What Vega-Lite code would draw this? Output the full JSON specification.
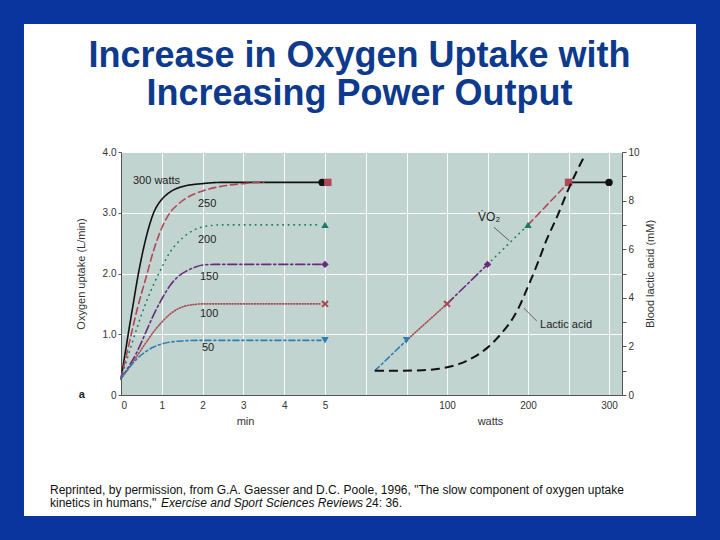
{
"$schema":"https://vega.github.io/schema/vega-lite/v6.json",
"width":501,"height":243,
"autosize":{"type":"none"},
"padding":{"left":121,"top":152,"right":98,"bottom":145},
"background":"#ffffff",
"config":{"view":{"fill":"#c2d4cf","stroke":null},"font":"Liberation Sans"},
"title":{"text":["Increase in Oxygen Uptake with","Increasing Power Output"],"font":"Liberation Sans","fontSize":36,"fontWeight":"bold","color":"#0d3a8c","anchor":"middle","frame":"group","offset":-113,"dx":-12,"lineHeight":38},
"datasets":{
"curves":[
{"w":"300","t":0,"v":0.27},{"w":"300","t":0.1,"v":0.68},{"w":"300","t":0.2,"v":1.1},{"w":"300","t":0.3,"v":1.5},{"w":"300","t":0.4,"v":1.9},{"w":"300","t":0.5,"v":2.25},{"w":"300","t":0.6,"v":2.55},{"w":"300","t":0.7,"v":2.8},{"w":"300","t":0.8,"v":3.0},{"w":"300","t":0.9,"v":3.13},{"w":"300","t":1.0,"v":3.22},{"w":"300","t":1.2,"v":3.34},{"w":"300","t":1.5,"v":3.43},{"w":"300","t":2.0,"v":3.48},{"w":"300","t":2.5,"v":3.5},{"w":"300","t":4.9,"v":3.5},
{"w":"250","t":0,"v":0.27},{"w":"250","t":0.2,"v":0.85},{"w":"250","t":0.4,"v":1.42},{"w":"250","t":0.6,"v":1.9},{"w":"250","t":0.8,"v":2.38},{"w":"250","t":1.0,"v":2.75},{"w":"250","t":1.2,"v":3.0},{"w":"250","t":1.4,"v":3.14},{"w":"250","t":1.6,"v":3.24},{"w":"250","t":2.0,"v":3.36},{"w":"250","t":2.5,"v":3.44},{"w":"250","t":3.0,"v":3.48},{"w":"250","t":3.4,"v":3.5},{"w":"250","t":3.5,"v":3.5},
{"w":"200","t":0,"v":0.27},{"w":"200","t":0.2,"v":0.7},{"w":"200","t":0.4,"v":1.12},{"w":"200","t":0.6,"v":1.5},{"w":"200","t":0.8,"v":1.82},{"w":"200","t":1.0,"v":2.1},{"w":"200","t":1.2,"v":2.35},{"w":"200","t":1.5,"v":2.58},{"w":"200","t":1.8,"v":2.72},{"w":"200","t":2.1,"v":2.78},{"w":"200","t":2.5,"v":2.8},{"w":"200","t":4.9,"v":2.8},
{"w":"150","t":0,"v":0.27},{"w":"150","t":0.2,"v":0.48},{"w":"150","t":0.4,"v":0.72},{"w":"150","t":0.6,"v":1.02},{"w":"150","t":0.8,"v":1.32},{"w":"150","t":1.0,"v":1.58},{"w":"150","t":1.2,"v":1.8},{"w":"150","t":1.4,"v":1.95},{"w":"150","t":1.6,"v":2.04},{"w":"150","t":1.8,"v":2.1},{"w":"150","t":2.0,"v":2.14},{"w":"150","t":2.3,"v":2.15},{"w":"150","t":4.9,"v":2.15},
{"w":"100","t":0,"v":0.27},{"w":"100","t":0.2,"v":0.45},{"w":"100","t":0.4,"v":0.65},{"w":"100","t":0.6,"v":0.85},{"w":"100","t":0.8,"v":1.04},{"w":"100","t":1.0,"v":1.2},{"w":"100","t":1.2,"v":1.33},{"w":"100","t":1.4,"v":1.42},{"w":"100","t":1.6,"v":1.47},{"w":"100","t":1.8,"v":1.49},{"w":"100","t":2.0,"v":1.5},{"w":"100","t":4.9,"v":1.5},
{"w":"50","t":0,"v":0.27},{"w":"50","t":0.2,"v":0.45},{"w":"50","t":0.4,"v":0.6},{"w":"50","t":0.6,"v":0.71},{"w":"50","t":0.8,"v":0.79},{"w":"50","t":1.0,"v":0.84},{"w":"50","t":1.2,"v":0.87},{"w":"50","t":1.5,"v":0.89},{"w":"50","t":2.0,"v":0.9},{"w":"50","t":4.9,"v":0.9}
],
"leftMarkers":[
{"w":"300","t":4.93,"v":3.5},{"w":"250","t":5.07,"v":3.5},{"w":"200","t":5.0,"v":2.8},{"w":"150","t":5.0,"v":2.15},{"w":"100","t":5.0,"v":1.5},{"w":"50","t":5.0,"v":0.9}
],
"leftLabels":[
{"label":"300 watts","t":0.294,"v":3.52},{"label":"250","t":1.887,"v":3.14},{"label":"200","t":1.887,"v":2.55},{"label":"150","t":1.936,"v":1.94},{"label":"100","t":1.936,"v":1.33},{"label":"50","t":1.985,"v":0.77}
],
"caption":[
{"text":"Reprinted, by permission, from G.A. Gaesser and D.C. Poole, 1996, \"The slow component of oxygen uptake","t":-1.74,"v":-1.556},
{"text":"kinetics in humans,\"","t":-1.74,"v":-1.786},
{"text":"24: 36.","t":5.99,"v":-1.786}
],
"captionItalic":[
{"text":"Exercise and Sport Sciences Reviews","t":0.98,"v":-1.786}
],
"vo2seg":[
{"w":"50","watts":11,"v":0.4},{"w":"50","watts":50,"v":0.9},
{"w":"100","watts":50,"v":0.9},{"w":"100","watts":100,"v":1.5},
{"w":"150","watts":100,"v":1.5},{"w":"150","watts":150,"v":2.15},
{"w":"200","watts":150,"v":2.15},{"w":"200","watts":200,"v":2.8},
{"w":"250","watts":200,"v":2.8},{"w":"250","watts":250,"v":3.5},
{"w":"300","watts":250,"v":3.5},{"w":"300","watts":300,"v":3.5}
],
"vo2pts":[
{"w":"50","watts":50,"v":0.9},{"w":"100","watts":100,"v":1.5},{"w":"150","watts":150,"v":2.15},{"w":"200","watts":200,"v":2.8},{"w":"250","watts":250,"v":3.5},{"w":"300","watts":300,"v":3.5}
],
"leaders":[
{"id":"vo2","watts":158,"v":2.76},{"id":"vo2","watts":176.9,"v":2.54},
{"id":"lac","watts":195,"v":1.427},{"id":"lac","watts":210.7,"v":1.218}
],
"lactic":[
{"watts":11,"mM":1.0},{"watts":40,"mM":1.0},{"watts":70,"mM":1.02},{"watts":90,"mM":1.08},{"watts":100,"mM":1.14},{"watts":115,"mM":1.28},{"watts":125,"mM":1.42},{"watts":140,"mM":1.7},{"watts":150,"mM":1.95},{"watts":160,"mM":2.27},{"watts":170,"mM":2.65},{"watts":182,"mM":3.2},{"watts":190,"mM":3.7},{"watts":199,"mM":4.39},{"watts":211,"mM":5.35},{"watts":223,"mM":6.39},{"watts":236,"mM":7.35},{"watts":248,"mM":8.32},{"watts":260,"mM":9.2},{"watts":268,"mM":9.72}
]
},
"layer":[
{
"data":{"values":[{}]},
"mark":{"type":"rect","filled":false,"color":"#0a359e","strokeWidth":24},
"encoding":{
"x":{"datum":-2.672,"type":"quantitative","scale":{"domain":[0,12.28],"nice":false},"axis":null},
"x2":{"datum":14.388},
"y":{"datum":6.3045,"type":"quantitative","scale":{"domain":[0,4],"nice":false},"axis":null},
"y2":{"datum":-2.189}
}
},
{
"data":{"name":"curves"},
"mark":{"type":"line","interpolate":"monotone","strokeCap":"round"},
"encoding":{
"x":{"field":"t","type":"quantitative","scale":{"domain":[0,12.28],"nice":false},
"axis":{"orient":"bottom","values":[0,1,2,3,4,5],"format":"d","grid":true,"gridColor":"#ffffff","gridOpacity":0.9,"ticks":false,"domain":true,"domainColor":"#555555","labelFontSize":10,"labelColor":"#333333","labelPadding":5,"title":"min","titleFontSize":11,"titleFontWeight":"normal","titleColor":"#333333","titleX":124,"titleY":20}},
"y":{"field":"v","type":"quantitative","scale":{"domain":[0,4],"nice":false},
"axis":{"orient":"left","values":[0,1,2,3,4],"labelExpr":"datum.value == 0 ? '0' : format(datum.value, '.1f')","grid":true,"gridColor":"#ffffff","gridOpacity":0.9,"tickSize":3,"tickColor":"#555555","domainColor":"#555555","labelFontSize":10,"labelColor":"#333333","labelPadding":2,"title":"Oxygen uptake (L/min)","titleFontSize":11,"titleFontWeight":"normal","titleColor":"#333333","titlePadding":16}},
"color":{"field":"w","type":"nominal","scale":{"domain":["300","250","200","150","100","50"],"range":["#111111","#b2475a","#1d7a68","#6a2b7d","#a94a55","#2f7db3"]},"legend":null},
"strokeDash":{"field":"w","type":"nominal","scale":{"domain":["300","250","200","150","100","50"],"range":[[1,0],[7,4],[0.5,5],[9,3,2,3],[1,1.8],[6,3,2,3]]},"legend":null},
"strokeWidth":{"field":"w","type":"ordinal","scale":{"domain":["300","250","200","150","100","50"],"range":[1.6,1.6,2.2,2,1.1,2]},"legend":null}
}
},
{
"data":{"name":"leftMarkers"},
"mark":{"type":"point","filled":true,"size":55,"opacity":1},
"encoding":{
"x":{"field":"t","type":"quantitative","scale":{"domain":[0,12.28],"nice":false},"axis":null},
"y":{"field":"v","type":"quantitative","scale":{"domain":[0,4],"nice":false},"axis":null},
"color":{"field":"w","type":"nominal","scale":{"domain":["300","250","200","150","100","50"],"range":["#111111","#b2475a","#1d7a68","#6a2b7d","#a94a55","#2f7db3"]},"legend":null},
"shape":{"field":"w","type":"nominal","scale":{"domain":["300","250","200","150","100","50"],"range":["circle","square","triangle-up","diamond","M -1 -0.6 L -0.6 -1 L 0 -0.4 L 0.6 -1 L 1 -0.6 L 0.4 0 L 1 0.6 L 0.6 1 L 0 0.4 L -0.6 1 L -1 0.6 L -0.4 0 Z","triangle-down"]},"legend":null}
}
},
{
"data":{"name":"leftLabels"},
"mark":{"type":"text","align":"left","baseline":"middle","fontSize":11,"color":"#222222"},
"encoding":{
"x":{"field":"t","type":"quantitative","scale":{"domain":[0,12.28],"nice":false},"axis":null},
"y":{"field":"v","type":"quantitative","scale":{"domain":[0,4],"nice":false},"axis":null},
"text":{"field":"label"}
}
},
{
"data":{"values":[{"label":"a","t":-0.963,"v":0}]},
"mark":{"type":"text","align":"center","baseline":"middle","fontSize":11,"fontWeight":"bold","color":"#222222"},
"encoding":{
"x":{"field":"t","type":"quantitative","scale":{"domain":[0,12.28],"nice":false},"axis":null},
"y":{"field":"v","type":"quantitative","scale":{"domain":[0,4],"nice":false},"axis":null},
"text":{"field":"label"}
}
},
{
"data":{"name":"caption"},
"mark":{"type":"text","align":"left","baseline":"middle","fontSize":12,"color":"#111111"},
"encoding":{
"x":{"field":"t","type":"quantitative","scale":{"domain":[0,12.28],"nice":false},"axis":null},
"y":{"field":"v","type":"quantitative","scale":{"domain":[0,4],"nice":false},"axis":null},
"text":{"field":"text"}
}
},
{
"data":{"name":"captionItalic"},
"mark":{"type":"text","align":"left","baseline":"middle","fontSize":12,"fontStyle":"italic","color":"#111111"},
"encoding":{
"x":{"field":"t","type":"quantitative","scale":{"domain":[0,12.28],"nice":false},"axis":null},
"y":{"field":"v","type":"quantitative","scale":{"domain":[0,4],"nice":false},"axis":null},
"text":{"field":"text"}
}
},
{
"data":{"name":"vo2seg"},
"mark":{"type":"line","strokeCap":"round"},
"encoding":{
"x":{"field":"watts","type":"quantitative","scale":{"domain":[-302.5,316],"nice":false},
"axis":{"orient":"bottom","values":[0,50,100,150,200,250,300],"labelExpr":"datum.value > 0 && datum.value % 100 == 0 ? datum.label : ''","grid":true,"gridColor":"#ffffff","gridOpacity":0.9,"ticks":false,"domain":false,"labelFontSize":10,"labelColor":"#333333","labelPadding":5,"title":"watts","titleFontSize":11,"titleFontWeight":"normal","titleColor":"#333333","titleX":369,"titleY":20}},
"y":{"field":"v","type":"quantitative","scale":{"domain":[0,4],"nice":false},"axis":null},
"color":{"field":"w","type":"nominal","scale":{"domain":["300","250","200","150","100","50"],"range":["#111111","#b2475a","#1d7a68","#6a2b7d","#a94a55","#2f7db3"]},"legend":null},
"strokeDash":{"field":"w","type":"nominal","scale":{"domain":["300","250","200","150","100","50"],"range":[[1,0],[7,4],[0.5,5],[9,3,2,3],[1,1.8],[6,3,2,3]]},"legend":null},
"strokeWidth":{"field":"w","type":"ordinal","scale":{"domain":["300","250","200","150","100","50"],"range":[1.6,1.6,2.2,2,1.1,2]},"legend":null}
}
},
{
"data":{"name":"vo2pts"},
"mark":{"type":"point","filled":true,"size":55,"opacity":1},
"encoding":{
"x":{"field":"watts","type":"quantitative","scale":{"domain":[-302.5,316],"nice":false},"axis":null},
"y":{"field":"v","type":"quantitative","scale":{"domain":[0,4],"nice":false},"axis":null},
"color":{"field":"w","type":"nominal","scale":{"domain":["300","250","200","150","100","50"],"range":["#111111","#b2475a","#1d7a68","#6a2b7d","#a94a55","#2f7db3"]},"legend":null},
"shape":{"field":"w","type":"nominal","scale":{"domain":["300","250","200","150","100","50"],"range":["circle","square","triangle-up","diamond","M -1 -0.6 L -0.6 -1 L 0 -0.4 L 0.6 -1 L 1 -0.6 L 0.4 0 L 1 0.6 L 0.6 1 L 0 0.4 L -0.6 1 L -1 0.6 L -0.4 0 Z","triangle-down"]},"legend":null}
}
},
{
"data":{"name":"leaders"},
"mark":{"type":"line","color":"#444444","strokeWidth":0.8},
"encoding":{
"x":{"field":"watts","type":"quantitative","scale":{"domain":[-302.5,316],"nice":false},"axis":null},
"y":{"field":"v","type":"quantitative","scale":{"domain":[0,4],"nice":false},"axis":null},
"detail":{"field":"id"}
}
},
{
"data":{"values":[{"label":"V̇O₂","watts":151.9,"v":2.93}]},
"mark":{"type":"text","align":"center","baseline":"middle","fontSize":12,"color":"#222222"},
"encoding":{
"x":{"field":"watts","type":"quantitative","scale":{"domain":[-302.5,316],"nice":false},"axis":null},
"y":{"field":"v","type":"quantitative","scale":{"domain":[0,4],"nice":false},"axis":null},
"text":{"field":"label"}
}
},
{
"data":{"values":[{"label":"Lactic acid","watts":214.8,"v":1.152}]},
"mark":{"type":"text","align":"left","baseline":"middle","fontSize":11,"color":"#222222"},
"encoding":{
"x":{"field":"watts","type":"quantitative","scale":{"domain":[-302.5,316],"nice":false},"axis":null},
"y":{"field":"v","type":"quantitative","scale":{"domain":[0,4],"nice":false},"axis":null},
"text":{"field":"label"}
}
},
{
"data":{"name":"lactic"},
"mark":{"type":"line","interpolate":"monotone","color":"#111111","strokeWidth":2,"strokeDash":[9,5]},
"encoding":{
"x":{"field":"watts","type":"quantitative","scale":{"domain":[-302.5,316],"nice":false},"axis":null},
"y":{"field":"mM","type":"quantitative","scale":{"domain":[0,10],"nice":false},
"axis":{"orient":"right","values":[0,1,2,3,4,5,6,7,8,9,10],"labelExpr":"datum.value % 2 == 0 ? datum.label : ''","grid":false,"tickSize":4,"tickColor":"#555555","domainColor":"#555555","labelFontSize":10,"labelColor":"#333333","labelPadding":2,"title":"Blood lactic acid (mM)","titleAngle":270,"titleFontSize":11,"titleFontWeight":"normal","titleColor":"#333333","titlePadding":16}}
}
}
],
"resolve":{"scale":{"x":"independent","y":"independent"},"axis":{"x":"independent","y":"independent"}}
}
